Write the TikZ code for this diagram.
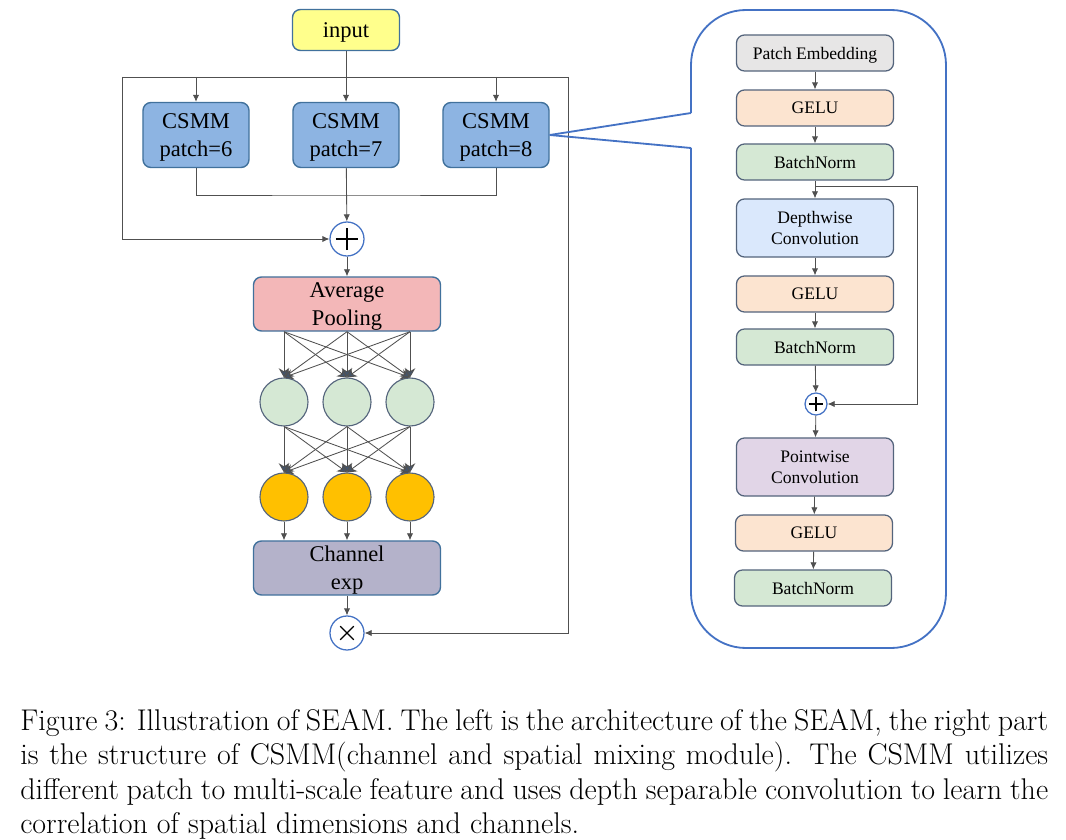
\documentclass[tikz,border=0pt]{standalone}
\usepackage{fontspec}
\usetikzlibrary{arrows.meta,positioning,calc}
\newfontfamily\diafont{Liberation Serif}
\definecolor{lineGray}{RGB}{80,80,80}
\definecolor{boxEdge}{RGB}{65,113,156}
\definecolor{slateEdge}{RGB}{84,100,124}
\definecolor{panelBlue}{RGB}{68,114,196}
\definecolor{inputFill}{RGB}{255,255,140}
\definecolor{csmmFill}{RGB}{141,180,226}
\definecolor{poolFill}{RGB}{243,183,184}
\definecolor{mixFill}{RGB}{213,232,212}
\definecolor{goldFill}{RGB}{255,192,0}
\definecolor{expFill}{RGB}{180,178,202}
\definecolor{embFill}{RGB}{231,230,230}
\definecolor{geluFill}{RGB}{252,228,208}
\definecolor{normFill}{RGB}{213,232,212}
\definecolor{dwFill}{RGB}{218,232,252}
\definecolor{pwFill}{RGB}{225,213,231}
\definecolor{fanTip}{RGB}{68,84,106}

\begin{document}
\begin{tikzpicture}[x=0.025cm, y=-0.025cm,
    conn/.style={draw=lineGray, line width=0.6pt},
    arrow/.style={conn, -{Latex[length=5pt,width=4.5pt]}},
    fan/.style={conn, -{Stealth[length=6.5pt,width=7.5pt,fill=fanTip]}},
    block/.style={draw=boxEdge, line width=1pt, rounded corners=0.2cm, align=center,
      inner sep=0pt, text depth=-1pt, font=\diafont\fontsize{16}{19.8}\selectfont},
    small/.style={draw=slateEdge, line width=0.9pt, rounded corners=0.2cm, align=center,
      inner sep=0pt, minimum width=3.925cm, minimum height=0.9cm, text depth=0pt,
      font=\diafont\fontsize{12.5}{15}\selectfont},
    unit/.style={circle, draw=slateEdge, line width=0.8pt, minimum size=1.2cm, inner sep=0pt},
    sumnode/.style={circle, draw=panelBlue, line width=0.9pt, fill=white, minimum size=#1,
      inner sep=0pt, path picture={
        \draw[black, line width=0.9pt] (path picture bounding box.center) +({-0.33*#1},0) -- +({0.33*#1},0)
          (path picture bounding box.center) +(0,{-0.33*#1}) -- +(0,{0.33*#1});}},
    mulnode/.style={circle, draw=panelBlue, line width=0.9pt, fill=white, minimum size=#1,
      inner sep=0pt, path picture={
        \draw[black, line width=0.8pt] (path picture bounding box.center) +({-0.2*#1},{-0.2*#1}) -- +({0.2*#1},{0.2*#1})
          (path picture bounding box.center) +({-0.2*#1},{0.2*#1}) -- +({0.2*#1},{-0.2*#1});}},
    panel/.style={draw=panelBlue, line width=1.3pt}
  ]
    \useasboundingbox (0,0) rectangle (1066,840);

    % Left: SEAM
    \node[block, fill=inputFill, minimum width=2.675cm, minimum height=1.025cm] (input) at (346,30) {input};
    \foreach \p/\x in {6/196, 7/346, 8/496} {
      \node[block, fill=csmmFill, minimum width=2.65cm, minimum height=1.625cm] (csmm\p) at (\x,135) {CSMM\\patch=\p};
    }
    \node[sumnode=0.85cm] (sum1) at (347,239) {};
    \node[block, fill=poolFill, minimum width=4.675cm, minimum height=1.35cm] (pool) at (347,304) {Average\\Pooling};
    \foreach \i/\x in {1/284, 2/347, 3/410} {
      \node[unit, fill=mixFill] (g\i) at (\x,402) {};
      \node[unit, fill=goldFill] (y\i) at (\x,497) {};
    }
    \node[block, fill=expFill, minimum width=4.675cm, minimum height=1.35cm] (chan) at (347,568) {Channel\\exp};
    \node[mulnode=0.85cm] (mul) at (347,633) {};

    % Input split and shortcut lines
    \coordinate (splitL) at (122,77);
    \coordinate (splitR) at (568,77);
    \coordinate (merge) at (346,195);
    \draw[conn] (splitL) -- (splitR);
    \draw[arrow] (input) -- (csmm7);
    \foreach \n in {6,8} \draw[arrow] (csmm\n.north |- splitL) -- (csmm\n.north);
    \draw[conn] (csmm6.south) |- (merge) -| (csmm8.south);
    \draw[arrow] (csmm7) -- (sum1);
    \draw[arrow] (splitL) |- (sum1.west);
    \draw[arrow] (splitR) |- (mul.east);
    \draw[arrow] (sum1) -- (pool);

    % Fully connected layers
    \foreach \i in {1,2,3} {
      \foreach \j in {1,2,3} {
        \draw[fan] (pool.south -| g\i) -- (g\j.north);
        \draw[fan] (g\i.south) -- (y\j.north);
      }
      \draw[arrow] (y\i) -- (y\i.south |- chan.north);
    }
    \draw[arrow] (chan) -- (mul);

    % Right: CSMM structure
    \node[small, fill=embFill] (emb) at (815,53) {Patch Embedding};
    \node[small, fill=geluFill] (geluA) at (815,108) {GELU};
    \node[small, fill=normFill] (normA) at (815,162) {BatchNorm};
    \node[small, fill=dwFill, minimum height=1.45cm] (dw) at (815,228) {Depthwise\\Convolution};
    \node[small, fill=geluFill] (geluB) at (815,294) {GELU};
    \node[small, fill=normFill] (normB) at (815,347) {BatchNorm};
    \node[sumnode=0.55cm] (sum2) at (816,404) {};
    \node[small, fill=pwFill, minimum height=1.45cm] (pw) at (815,467) {Pointwise\\Convolution};
    \node[small, fill=geluFill] (geluC) at (814,533) {GELU};
    \node[small, fill=normFill] (normC) at (813,588) {BatchNorm};
    \foreach \a/\b in {emb/geluA, geluA/normA, normA/dw, dw/geluB, geluB/normB, normB/sum2, sum2/pw, pw/geluC, geluC/normC}
      \draw[arrow] (\a) -- (\b);

    % Residual around depthwise conv
    \coordinate (resFrom) at (816,186);
    \coordinate (resTurn) at (917,186);
    \draw[arrow] (resFrom) -- (resTurn) |- (sum2.east);

    % Panel frame and callout
    \coordinate (calloutTop) at (691,113);
    \coordinate (calloutBot) at (691,148);
    \draw[panel, rounded corners=1.375cm] (calloutBot) -- (691,648) -- (946,648) -- (946,10) -- (691,10) -- (calloutTop);
    \draw[panel] (csmm8.east) -- (calloutTop);
    \draw[panel] (csmm8.east) -- (calloutBot);

    % Caption
    \node[anchor=north west, inner sep=0pt] (caption) at (20,709) {\parbox{731pt}{\fontsize{21.3}{24.5}\selectfont
      Figure 3: Illustration of SEAM. The left is the architecture of the SEAM, the right part\linebreak
      is the structure of CSMM(channel and spatial mixing module).  The CSMM utilizes\linebreak
      different patch to multi-scale feature and uses depth separable convolution to learn the\linebreak
      correlation of spatial dimensions and channels.}};
  \end{tikzpicture}
\end{document}
